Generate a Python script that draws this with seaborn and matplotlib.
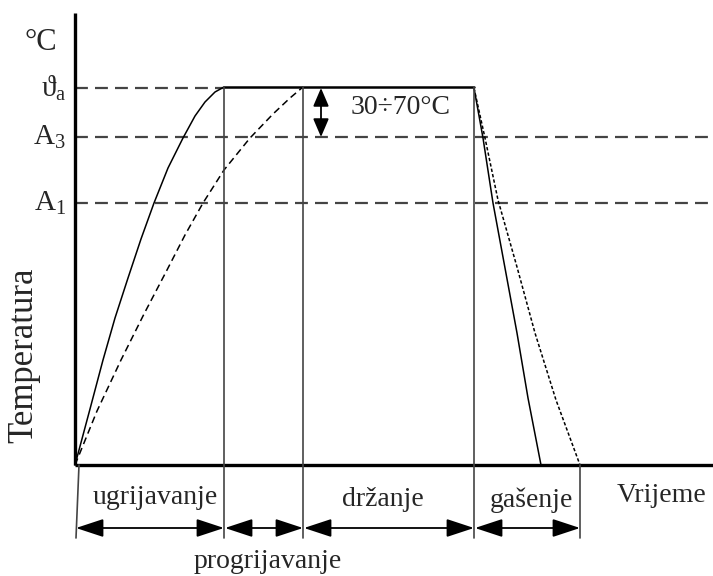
import matplotlib
matplotlib.use("Agg")
import matplotlib.pyplot as plt
import seaborn as sns

# heating curves (time, temperature)
heat_t_solid = [0, 15, 28, 40, 53, 66, 79, 93, 108, 120, 130, 140, 149]
heat_T_solid = [0, 56, 105, 147, 187, 226, 262, 297, 327, 349, 363, 373, 378]
heat_t_dash = [0, 22, 46, 69, 92, 110, 128, 149, 175, 198, 215, 228]
heat_T_dash = [0, 54, 105, 151, 195, 230, 262, 295, 327, 351, 367, 378]

# cooling (quench) curves
cool_t_solid = [399, 408, 418, 430, 442, 453, 466]
cool_T_solid = [377, 327, 262, 197, 132, 67, 0]
cool_t_dash = [399, 410, 423, 442, 460, 481, 505]
cool_T_dash = [377, 327, 265, 198, 132, 65, 0]

# holding at the austenitizing temperature
hold_t = [149, 399]
hold_T = [378, 378]

# temperature levels
level_names = ["$\\mathrm{ϑ}_{\\mathrm{a}}$", "$\\mathrm{A}_{\\mathrm{3}}$", "$\\mathrm{A}_{\\mathrm{1}}$"]
level_T = [377, 328, 262]
level_end = [149, 638, 638]

# phase boundaries on the time axis
phase_t = [0, 149, 228, 399, 505]
phase_names = ["ugrijavanje", "progrijavanje", "držanje", "gašenje"]

sns.set_theme(style="white")
plt.rcParams["font.family"] = ["Liberation Serif", "DejaVu Serif"]
plt.rcParams["mathtext.fontset"] = "custom"
plt.rcParams["mathtext.rm"] = "Liberation Serif"

fig = plt.figure(figsize=(7.13, 5.76), dpi=100)
ax = fig.add_axes([0, 0, 1, 1])
ax.set_xlim(-75, 638)
ax.set_ylim(-111, 465)
ax.axis("off")

ink = "black"
grey = "#444444"

# dashed level lines
for T, end in zip(level_T, level_end):
    ax.plot([0, end], [T, T], color=grey, lw=1.6, dashes=(5.8, 3.2))

# axes
ax.plot([0, 0], [0, 452], color=ink, lw=2.4, solid_capstyle="butt")
ax.plot([0, 638], [0, 0], color=ink, lw=2.4, solid_capstyle="butt")

# curves
sns.lineplot(x=heat_t_solid, y=heat_T_solid, sort=False, estimator=None, color=ink, lw=1.1, ax=ax)
sns.lineplot(x=heat_t_dash, y=heat_T_dash, sort=False, estimator=None, color=ink, lw=1.1, dashes=(4.6, 2.8), ax=ax)
sns.lineplot(x=hold_t, y=hold_T, sort=False, estimator=None, color=ink, lw=1.8, ax=ax)
sns.lineplot(x=cool_t_solid, y=cool_T_solid, sort=False, estimator=None, color=ink, lw=1.1, ax=ax)
sns.lineplot(x=cool_t_dash, y=cool_T_dash, sort=False, estimator=None, color=ink, lw=1.1, dashes=(2.2, 1.4), ax=ax)

# phase boundary lines
for t in phase_t[1:4]:
    ax.plot([t, t], [hold_T[0], -73], color=grey, lw=1.2)
ax.plot([phase_t[4], phase_t[4]], [0, -73], color=grey, lw=1.2)
ax.plot([4, 1], [0, -73], color=grey, lw=1.2)

# phase arrows
arrow_y = -63
for a, b in zip(phase_t[:-1], phase_t[1:]):
    ax.annotate("", xy=(b, arrow_y), xytext=(a + 1, arrow_y),
                arrowprops=dict(arrowstyle="<|-|>,head_length=0.85,head_width=0.28",
                                mutation_scale=20, color=ink, lw=1.3,
                                shrinkA=0, shrinkB=0))

# overheating arrow
ax.annotate("", xy=(246, level_T[1]), xytext=(246, level_T[0]),
            arrowprops=dict(arrowstyle="<|-|>,head_length=0.7,head_width=0.3",
                            mutation_scale=16, color=ink, lw=1.3,
                            shrinkA=0, shrinkB=0))
ax.text(326, 357, "30÷70°C", fontsize=20, ha="center", va="center")

# texts
fs = 20
ax.text(-18, 422, "°C", fontsize=22, ha="right", va="center")
for name, T in zip(level_names, level_T):
    ax.text(-9, T, name, fontsize=21, ha="right", va="center")
ax.text(-51, 110, "Temperatura", fontsize=25, rotation=90, ha="center", va="center")
ax.text(80, -32, phase_names[0], fontsize=fs, ha="center", va="center")
ax.text(193, -96, phase_names[1], fontsize=fs, ha="center", va="center")
ax.text(308, -35, phase_names[2], fontsize=fs, ha="center", va="center")
ax.text(456, -35, phase_names[3], fontsize=fs, ha="center", va="center")
ax.text(587, -30, "Vrijeme", fontsize=fs, ha="center", va="center")

fig.savefig("out.png", dpi=100)
